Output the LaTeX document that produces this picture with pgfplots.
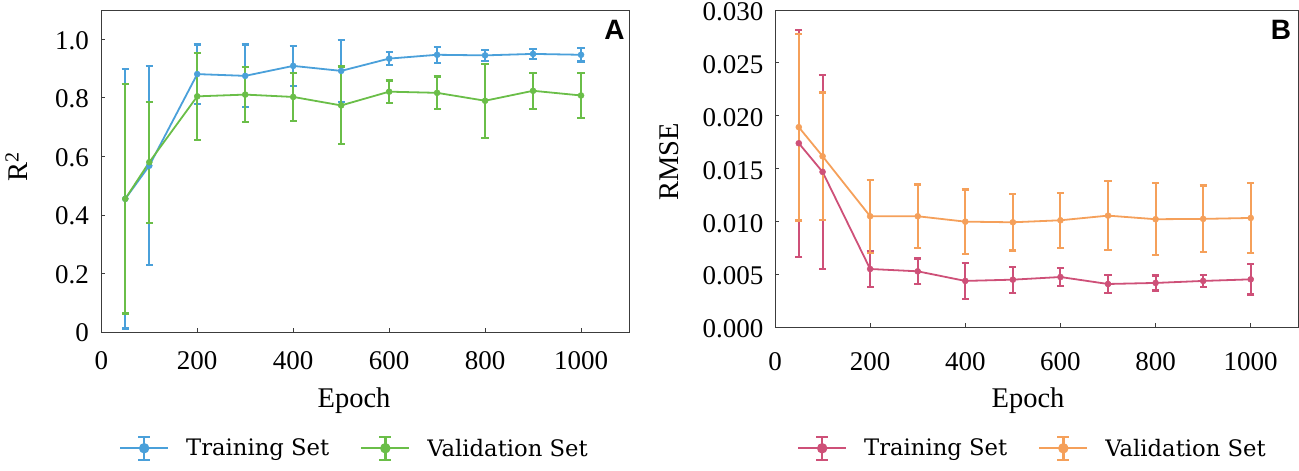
\documentclass[border=0pt]{standalone}
\usepackage{pgfplots}
\pgfplotsset{compat=1.18}
\usepackage{fontspec}
\setmainfont{Liberation Serif}
\newfontfamily\legfont{DejaVu Serif}
\newfontfamily\panelfont{Liberation Sans}

\definecolor{trainA}{RGB}{74,160,218}
\definecolor{validA}{RGB}{106,190,72}
\definecolor{trainB}{RGB}{206,80,120}
\definecolor{validB}{RGB}{245,160,90}
\definecolor{axisgray}{RGB}{60,60,60}

% legend sample: line with a capped error bar and a dot
\newcommand{\legimg}[1]{%
  \draw[#1, line width=2pt] (0pt,0pt) -- (48pt,0pt);
  \draw[#1, line width=2.4pt] (24pt,-11.5pt) -- (24pt,11.5pt);
  \draw[#1, line width=2.4pt] (18pt,-11.5pt) -- (30pt,-11.5pt) (18pt,11.5pt) -- (30pt,11.5pt);
  \fill[#1] (24pt,0pt) circle (4.3pt);
}

\pgfplotsset{
  panel/.style={
    scale only axis,
    xmin=0, xmax=1100, ymin=0,
    scaled ticks=false,
    axis line style={draw=axisgray, line width=0.9pt},
    xtick pos=bottom, ytick pos=left,
    tick align=inside,
    major tick length=4pt,
    tick style={draw=axisgray, line width=0.8pt},
    xtick={0,200,400,600,800,1000},
    xticklabels={0,200,400,600,800,1000},
    ticklabel style={font=\fontsize{27}{30}\selectfont, inner sep=0pt},
    label style={font=\fontsize{28.5}{32}\selectfont},
    /pgf/number format/assume math mode=true,
    legend columns=2,
    legend cell align=left,
    legend style={draw=none, fill=none, inner sep=0pt, anchor=west,
      font=\legfont\fontsize{22.7}{26}\selectfont,
      /tikz/every odd column/.append style={column sep=15pt},
      /tikz/every even column/.append style={column sep=29pt}},
    every axis plot/.append style={line width=1.8pt, line join=round, mark=*, mark size=3pt,
      mark options={solid, line width=0.5pt}},
    error bars/y dir=both,
    error bars/y explicit,
    error bars/error mark=-,
    error bars/error mark options={rotate=90, line width=2.2pt, mark size=3.6pt},
    error bars/error bar style={line width=2pt},
  },
}

\begin{document}
\begin{tikzpicture}
\useasboundingbox (0pt,0pt) rectangle (1299pt,471pt);

\begin{axis}[panel,
    at={(101.3pt,139pt)}, anchor=south west,
    width=527.7pt, height=322pt,
    ymax=1.1,
    ytick={0,0.2,0.4,0.6,0.8,1.0},
    yticklabels={0,0.2,0.4,0.6,0.8,1.0},
    xticklabel style={yshift=-19.7pt},
    yticklabel style={xshift=-12.3pt, yshift=-1pt},
    xlabel={Epoch},
    ylabel={R\textsuperscript{2}},
    xlabel style={at={(axis description cs:0.479,-0.2143)}, anchor=center},
    ylabel style={at={(axis description cs:-0.1607,0.512)}, anchor=center},
    legend style={at={(axis description cs:0.0335,-0.361)}},
]
\addplot[color=trainA, legend image code/.code={\legimg{trainA}}] coordinates {
    (50,0.455) +- (0,0.443)
    (100,0.568) +- (0,0.340)
    (200,0.881) +- (0,0.101)
    (300,0.875) +- (0,0.107)
    (400,0.909) +- (0,0.069)
    (500,0.892) +- (0,0.105)
    (600,0.934) +- (0,0.022)
    (700,0.947) +- (0,0.027)
    (800,0.945) +- (0,0.018)
    (900,0.950) +- (0,0.017)
    (1000,0.947) +- (0,0.023)
};
\addlegendentry{Training Set}
\addplot[color=validA, legend image code/.code={\legimg{validA}}] coordinates {
    (50,0.455) +- (0,0.392)
    (100,0.580) +- (0,0.207)
    (200,0.805) +- (0,0.149)
    (300,0.811) +- (0,0.094)
    (400,0.803) +- (0,0.081)
    (500,0.774) +- (0,0.133)
    (600,0.821) +- (0,0.038)
    (700,0.817) +- (0,0.056)
    (800,0.790) +- (0,0.126)
    (900,0.824) +- (0,0.062)
    (1000,0.808) +- (0,0.077)
};
\addlegendentry{Validation Set}
\node[font=\panelfont\bfseries\fontsize{28}{30}\selectfont, inner sep=0pt]
    at (rel axis cs:0.9725,0.938) {A};
\end{axis}

\begin{axis}[panel,
    at={(775pt,144pt)}, anchor=south west,
    width=523.3pt, height=317pt,
    ymax=0.03,
    ytick={0,0.005,0.01,0.015,0.02,0.025,0.03},
    yticklabels={0.000,0.005,0.010,0.015,0.020,0.025,0.030},
    xticklabel style={yshift=-25.7pt},
    yticklabel style={xshift=-11.5pt, yshift=-2pt},
    xlabel={Epoch},
    ylabel={RMSE},
    xlabel style={at={(axis description cs:0.4835,-0.2334)}, anchor=center},
    ylabel style={at={(axis description cs:-0.2026,0.5215)}, anchor=center},
    legend style={at={(axis description cs:0.042,-0.3826)}},
]
\addplot[color=trainB, legend image code/.code={\legimg{trainB}}] coordinates {
    (50,0.01739) +- (0,0.01075)
    (100,0.01468) +- (0,0.00917)
    (200,0.00549) +- (0,0.00169)
    (300,0.00527) +- (0,0.00122)
    (400,0.00436) +- (0,0.00168)
    (500,0.00448) +- (0,0.00123)
    (600,0.00473) +- (0,0.00082)
    (700,0.00407) +- (0,0.00085)
    (800,0.00417) +- (0,0.00071)
    (900,0.00436) +- (0,0.00058)
    (1000,0.00451) +- (0,0.00144)
};
\addlegendentry{Training Set}
\addplot[color=validB, legend image code/.code={\legimg{validB}}] coordinates {
    (50,0.01891) +- (0,0.00883)
    (100,0.01616) +- (0,0.00603)
    (200,0.01048) +- (0,0.00346)
    (300,0.01048) +- (0,0.00300)
    (400,0.00997) +- (0,0.00305)
    (500,0.00991) +- (0,0.00267)
    (600,0.01010) +- (0,0.00260)
    (700,0.01054) +- (0,0.00328)
    (800,0.01020) +- (0,0.00341)
    (900,0.01023) +- (0,0.00317)
    (1000,0.01032) +- (0,0.00333)
};
\addlegendentry{Validation Set}
\node[font=\panelfont\bfseries\fontsize{28}{30}\selectfont, inner sep=0pt]
    at (rel axis cs:0.967,0.9385) {B};
\end{axis}
\end{tikzpicture}
\end{document}
